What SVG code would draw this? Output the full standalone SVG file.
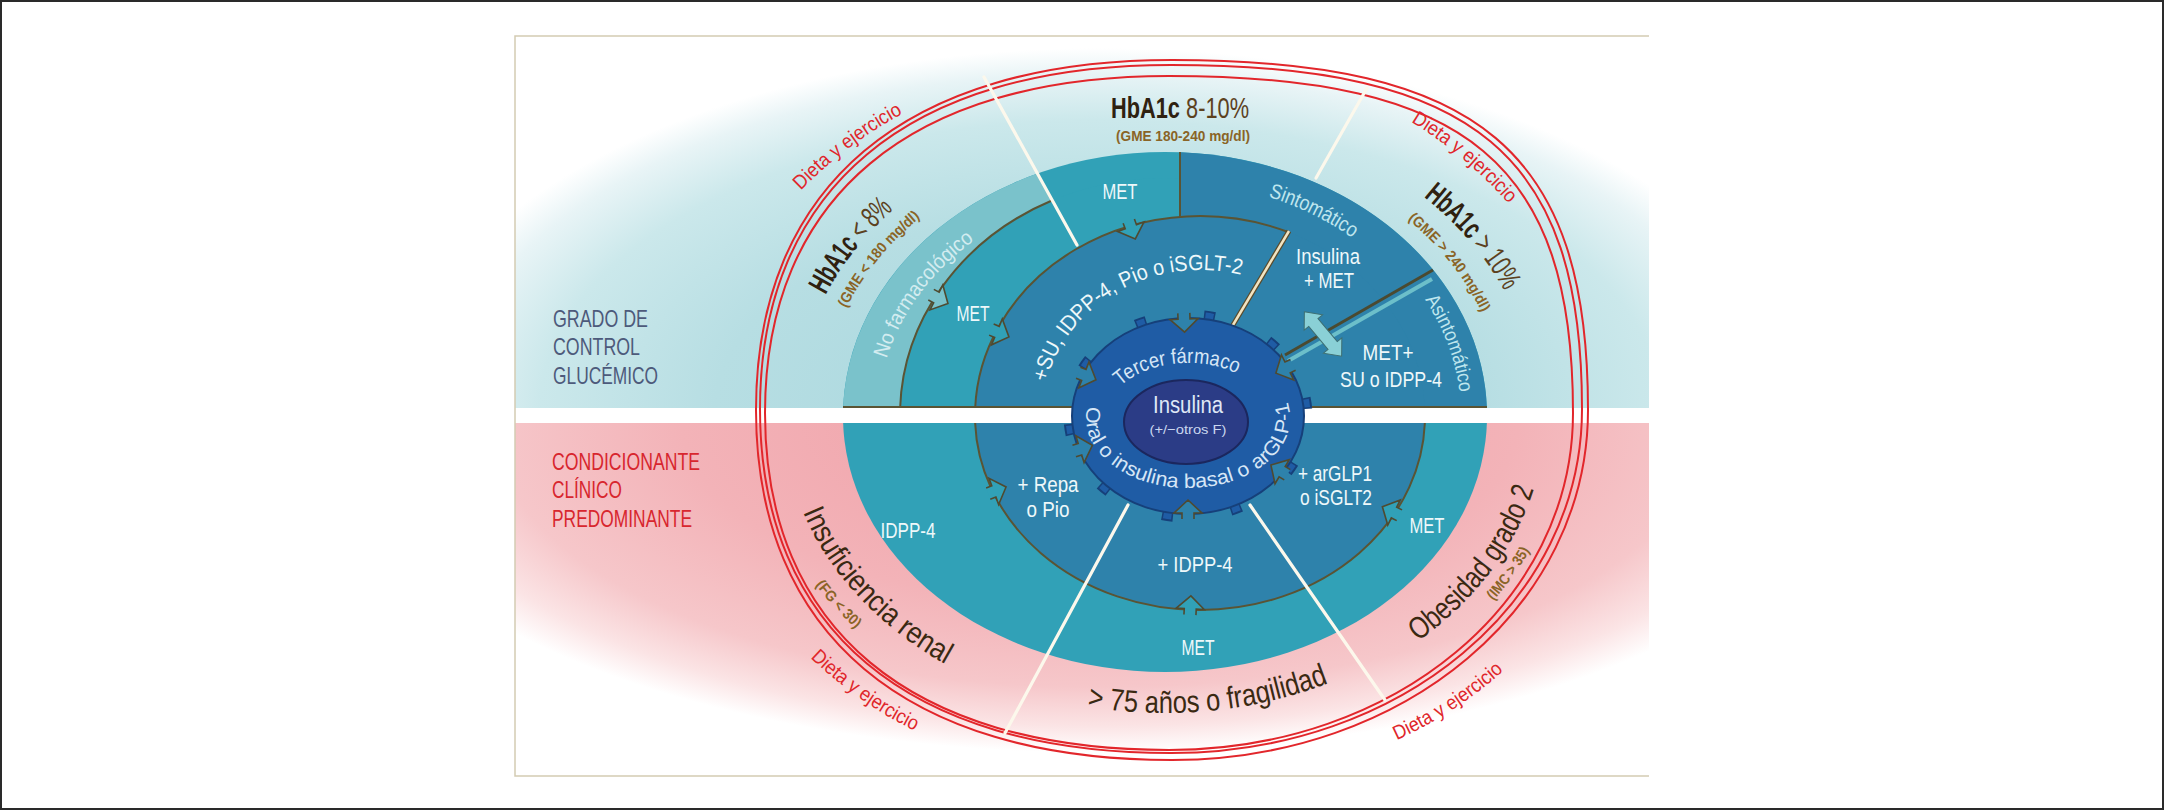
<svg xmlns="http://www.w3.org/2000/svg" width="2164" height="810" viewBox="0 0 2164 810">
<defs>
<style>
.f{font-family:"Liberation Sans Narrow","Liberation Sans",Arial,sans-serif}
.lbl{fill:#eef8fa;font-size:22px}
.brn{fill:#3a2912}
.gme{fill:#8a6426;font-size:15px;font-weight:bold}
.red{fill:#e0262b;font-size:20px}
.sep{stroke:#5a5434;stroke-width:2;fill:none}
.wl{stroke:#fcf8ec;stroke-width:3.2;fill:none;stroke-linecap:round}
.mid{text-anchor:middle}
</style>
<radialGradient id="gUp" gradientUnits="userSpaceOnUse" cx="1100" cy="408" r="700" gradientTransform="translate(1100 408) scale(1 0.514) translate(-1100 -408)">
<stop offset="0" stop-color="#a6d6dd"/>
<stop offset="0.55" stop-color="#b7dee3"/>
<stop offset="0.8" stop-color="#cbe8eb"/>
<stop offset="0.93" stop-color="#e8f4f6"/>
<stop offset="1" stop-color="#ffffff"/>
</radialGradient>
<radialGradient id="gDn" gradientUnits="userSpaceOnUse" cx="1100" cy="423" r="760" gradientTransform="translate(1100 423) scale(1 0.434) translate(-1100 -423)">
<stop offset="0" stop-color="#ef9ea6"/>
<stop offset="0.55" stop-color="#f3b3b8"/>
<stop offset="0.8" stop-color="#f6c7ca"/>
<stop offset="0.92" stop-color="#fbe4e5"/>
<stop offset="1" stop-color="#ffffff"/>
</radialGradient>
<clipPath id="cu"><rect x="0" y="0" width="2164" height="408"/></clipPath>
<clipPath id="cd"><rect x="0" y="423" width="2164" height="400"/></clipPath>
<g id="tab"><path d="M-6,5 L-6,-1 L-14,-1 L0,-14 L14,-1 L6,-1 L6,5 Z"/><path d="M-6,5 L-6,-1 L-14,-1 L0,-14 L14,-1 L6,-1 L6,5" fill="none" stroke="#4f4a30" stroke-width="1.6"/></g>
<path id="pNoF" d="M882.4,375.2 A287 235 0 0 1 988.3,230.8"/>
<path id="pSin" d="M1258.4,193.8 A287 235 0 0 1 1360.7,244.1"/>
<path id="pAsin" d="M1416,287.2 A296 243 0 0 1 1460.8,407.5"/>
<path id="pSU" d="M1042.9,400.7 A158 146 0 0 1 1259.2,280.6"/>
<path id="pTer" d="M1116.1,390.5 A83 55 0 0 1 1242.5,376.5"/>
<path id="pOral" d="M1086.6,410.7 A102 70 0 1 0 1288.5,405.8"/>
<path id="pIns" d="M798.2,499.6 A381.6 303.4 0 0 0 957.2,670.5"/>
<path id="pFG" d="M803.9,568.6 A409 325 0 0 0 870.8,641.8"/>
<path id="p75" d="M1074.6,704.2 A373.5 297 0 0 0 1340.4,678.2"/>
<path id="pOb" d="M1409.3,647.3 A380 302 0 0 0 1536.7,478.8"/>
<path id="pIMC" d="M1481.8,613 A402 320 0 0 0 1537.7,535.9"/>
<path id="pH8" d="M817.3,312 A370 304 0 0 1 908,197.3"/>
<path id="pG8" d="M838.8,324.2 A345 282 0 0 1 934.2,206.4"/>
<path id="pH10" d="M1418.7,192.9 A372 305 0 0 1 1507.4,296.8"/>
<path id="pG10" d="M1393.2,207.9 A341 280 0 0 1 1489.3,329.5"/>
<path id="pD1" d="M797.9,193.5 A420 420 0 0 1 906.5,111.7"/>
<path id="pD2" d="M1407.4,119.7 A420 420 0 0 1 1511.6,207.1"/>
<path id="pD3" d="M807.3,654.7 A420 420 0 0 0 918.7,732.7"/>
<path id="pD4" d="M1392.8,741.9 A420 420 0 0 0 1506.8,667.9"/>
</defs>

<g id="background">
<rect width="2164" height="810" fill="#ffffff"/>
<rect x="1" y="1" width="2162" height="808" fill="none" stroke="#2a2a2a" stroke-width="2"/>
<rect x="515" y="36" width="1134" height="372" fill="url(#gUp)"/>
<rect x="515" y="423" width="1134" height="353" fill="url(#gDn)"/>
<path d="M1649,36 H515 V776 H1649" fill="none" stroke="#d3cbb3" stroke-width="1.5"/>
</g>

<g id="diet-ring" fill="none" stroke="#e2262b" stroke-width="2">
<path d="M1588,410 C1588,606 1405,760 1172,760 C905.8,760 756,634 756,410 C756,186 905.8,60 1172,60 C1479.8,60 1588,151 1588,410 Z"/>
<path d="M1582,409 C1582,601.6 1401.2,753 1171,753 C908,753 760,629.2 760,409 C760,188.8 908,65 1171,65 C1475.1,65 1582,154.4 1582,409 Z"/>
<path d="M1573,413 C1573,601.7 1395.2,750 1169,750 C910.4,750 765,628.7 765,413 C765,197.3 910.4,76 1169,76 C1468,76 1573,163.6 1573,413 Z"/>
</g>

<g id="disc-upper" clip-path="url(#cu)">
<path d="M843,416 A322 264 0 0 1 1487,416 Z" fill="#31a1b7"/>
<path d="M843,416 A322 264 0 0 1 1037.5,173.6 L1053,200 L1165,416 Z" fill="#7ac2cb"/>
<path d="M900,416 A265 238 0 0 1 1430,416 Z" fill="#31a1b7"/>
<path d="M1180,152.3 A322 264 0 0 1 1487,416 L1180,416 Z" fill="#2e82ab"/>
<path d="M975,416 A225 200 0 0 1 1425,416 Z" fill="#2e82ab"/>
<path class="sep" d="M900,416 A265 238 0 0 1 1053,200"/>
<path class="sep" d="M975,416 A225 200 0 0 1 1288,232"/>
<path class="sep" d="M1180,152 V217"/>
<path class="sep" d="M843,407 H1487"/>
<path d="M1288,361 L1432,279" stroke="#6cbfca" stroke-width="4" fill="none"/>
<path d="M1285,355 L1433,270" stroke="#4b4a30" stroke-width="3" fill="none"/>
<path d="M1289,231 L1230,330" stroke="#5a4a2a" stroke-width="5" fill="none"/>
<path d="M1289,231 L1230,330" stroke="#f1e4c2" stroke-width="2.5" fill="none"/>
<use href="#tab" fill="#7ac2cb" transform="translate(935.5,297) rotate(117.4)"/>
<use href="#tab" fill="#31a1b7" transform="translate(996,331.5) rotate(112.5)"/>
<use href="#tab" fill="#31a1b7" transform="translate(1130.5,225.8) rotate(159.9)"/>
</g>

<g id="disc-lower" clip-path="url(#cd)">
<path d="M843,416 A322 256 0 0 0 1487,416 Z" fill="#31a1b7"/>
<path d="M975,416 A225 194 0 0 0 1425,416 Z" fill="#2e82ab"/>
<path class="sep" d="M975,416 A225 194 0 0 0 1425,416"/>
<use href="#tab" fill="#31a1b7" transform="translate(1190.2,609.8) rotate(2.9)"/>
<use href="#tab" fill="#31a1b7" transform="translate(992.9,491.8) rotate(69.9)"/>
<use href="#tab" fill="#31a1b7" transform="translate(1394.9,513) rotate(-63.5)"/>
</g>

<g id="connectors">
<path class="wl" d="M984,77 L1077,245"/>
<path class="wl" d="M1367,88 L1316,178"/>
<path class="wl" d="M1128,505 L1005,733"/>
<path class="wl" d="M1250,505 L1385,700"/>
<path transform="translate(1323,334) rotate(50)" d="M-29,0 L-15,-12 L-15,-6 L15,-6 L15,-12 L29,0 L15,12 L15,6 L-15,6 L-15,12 Z" fill="#8ad0d6" stroke="#3e6f72" stroke-width="1"/>
</g>

<g id="gear">
<ellipse cx="1188" cy="416" rx="119" ry="101" fill="none" stroke="#16407a" stroke-width="11" stroke-dasharray="11 58.35" stroke-dashoffset="20"/>
<ellipse cx="1188" cy="416" rx="119" ry="101" fill="none" stroke="#1f5ca5" stroke-width="7" stroke-dasharray="8 61.35" stroke-dashoffset="18.5"/>
<ellipse cx="1188" cy="416" rx="116" ry="98" fill="#1f5ca5" stroke="#16407a" stroke-width="2"/>
<use href="#tab" fill="#2e82ab" transform="translate(1082.9,374.6) rotate(111.5)"/>
<use href="#tab" fill="#2e82ab" transform="translate(1184,318.1) rotate(177.7)"/>
<use href="#tab" fill="#2e82ab" transform="translate(1288.5,367) rotate(244)"/>
<use href="#tab" fill="#2e82ab" transform="translate(1079,449.5) rotate(72.9)"/>
<use href="#tab" fill="#2e82ab" transform="translate(1188,514) rotate(0)"/>
<use href="#tab" fill="#2e82ab" transform="translate(1283,472.2) rotate(-59.4)"/>
<ellipse cx="1186" cy="422" rx="62" ry="42" fill="#2b3c86" stroke="#1b275e" stroke-width="2"/>
</g>

<g id="legend-left" class="f" font-size="24">
<text x="553" y="327" fill="#4d5a7b" textLength="95" lengthAdjust="spacingAndGlyphs">GRADO DE</text>
<text x="553" y="355" fill="#4d5a7b" textLength="87" lengthAdjust="spacingAndGlyphs">CONTROL</text>
<text x="553" y="384" fill="#4d5a7b" textLength="105" lengthAdjust="spacingAndGlyphs">GLUCÉMICO</text>
<text x="552" y="470" fill="#d8262e" textLength="148" lengthAdjust="spacingAndGlyphs">CONDICIONANTE</text>
<text x="552" y="498" fill="#d8262e" textLength="70" lengthAdjust="spacingAndGlyphs">CLÍNICO</text>
<text x="552" y="527" fill="#d8262e" textLength="140" lengthAdjust="spacingAndGlyphs">PREDOMINANTE</text>
</g>

<g id="diet-labels" class="f">
<text class="red mid"><textPath href="#pD1" startOffset="50%" textLength="128" lengthAdjust="spacingAndGlyphs">Dieta y ejercicio</textPath></text>
<text class="red mid"><textPath href="#pD2" startOffset="50%" textLength="128" lengthAdjust="spacingAndGlyphs">Dieta y ejercicio</textPath></text>
<text class="red mid"><textPath href="#pD3" startOffset="50%" textLength="128" lengthAdjust="spacingAndGlyphs">Dieta y ejercicio</textPath></text>
<text class="red mid"><textPath href="#pD4" startOffset="50%" textLength="128" lengthAdjust="spacingAndGlyphs">Dieta y ejercicio</textPath></text>
</g>

<g id="hba1c-labels" class="f">
<text x="1111" y="118" font-size="30" textLength="138" lengthAdjust="spacingAndGlyphs"><tspan font-weight="bold" fill="#2f2110">HbA1c</tspan><tspan fill="#5c411e"> 8-10%</tspan></text>
<text class="gme mid" x="1183" y="141" font-size="16" textLength="134" lengthAdjust="spacingAndGlyphs">(GME 180-240 mg/dl)</text>
<text class="mid" font-size="30"><textPath href="#pH8" startOffset="50%" textLength="110" lengthAdjust="spacingAndGlyphs"><tspan font-weight="bold" fill="#2f2110">HbA1c</tspan><tspan fill="#5c411e"> &lt; 8%</tspan></textPath></text>
<text class="gme mid"><textPath href="#pG8" startOffset="50%" textLength="118" lengthAdjust="spacingAndGlyphs">(GME &lt; 180 mg/dl)</textPath></text>
<text class="mid" font-size="30"><textPath href="#pH10" startOffset="50%" textLength="125" lengthAdjust="spacingAndGlyphs"><tspan font-weight="bold" fill="#2f2110">HbA1c</tspan><tspan fill="#5c411e"> &gt; 10%</tspan></textPath></text>
<text class="gme mid"><textPath href="#pG10" startOffset="50%" textLength="120" lengthAdjust="spacingAndGlyphs">(GME &gt; 240 mg/dl)</textPath></text>
</g>

<g id="condition-labels" class="f">
<text class="brn mid" font-size="30"><textPath href="#pIns" startOffset="50%" textLength="212" lengthAdjust="spacingAndGlyphs">Insuficiencia renal</textPath></text>
<text class="gme mid" font-size="14"><textPath href="#pFG" startOffset="50%" textLength="60" lengthAdjust="spacingAndGlyphs">(FG &lt; 30)</textPath></text>
<text class="brn mid" font-size="31"><textPath href="#p75" startOffset="50%" textLength="245" lengthAdjust="spacingAndGlyphs">&gt; 75 años o fragilidad</textPath></text>
<text class="brn mid" font-size="31"><textPath href="#pOb" startOffset="50%" textLength="195" lengthAdjust="spacingAndGlyphs">Obesidad grado 2</textPath></text>
<text class="gme mid" font-size="14"><textPath href="#pIMC" startOffset="50%" textLength="62" lengthAdjust="spacingAndGlyphs">(IMC &gt; 35)</textPath></text>
</g>

<g id="ring-labels" class="f">
<text class="mid" font-size="21" fill="#d3ecf0"><textPath href="#pNoF" startOffset="50%" textLength="150" lengthAdjust="spacingAndGlyphs">No farmacológico</textPath></text>
<text class="mid" font-size="21" fill="#bfe6ee"><textPath href="#pSin" startOffset="50%" textLength="94" lengthAdjust="spacingAndGlyphs">Sintomático</textPath></text>
<text class="mid" font-size="20" fill="#bfe6ee"><textPath href="#pAsin" startOffset="50%" textLength="100" lengthAdjust="spacingAndGlyphs">Asintomático</textPath></text>
<text class="lbl mid" font-size="24"><textPath href="#pSU" startOffset="50%" textLength="246" lengthAdjust="spacingAndGlyphs">+SU, IDPP-4, Pio o iSGLT-2</textPath></text>
<text class="lbl mid" x="973" y="321" textLength="33" lengthAdjust="spacingAndGlyphs">MET</text>
<text class="lbl mid" x="1120" y="199" textLength="35" lengthAdjust="spacingAndGlyphs">MET</text>
<text class="lbl mid" x="1328" y="264" textLength="64" lengthAdjust="spacingAndGlyphs">Insulina</text>
<text class="lbl mid" x="1329" y="288" textLength="50" lengthAdjust="spacingAndGlyphs">+ MET</text>
<text class="lbl mid" x="1388" y="360" textLength="51" lengthAdjust="spacingAndGlyphs">MET+</text>
<text class="lbl mid" x="1391" y="387" textLength="102" lengthAdjust="spacingAndGlyphs">SU o IDPP-4</text>
<text class="lbl mid" x="1048" y="492" textLength="61" lengthAdjust="spacingAndGlyphs">+ Repa</text>
<text class="lbl mid" x="1048" y="517" textLength="43" lengthAdjust="spacingAndGlyphs">o Pio</text>
<text class="lbl mid" x="908" y="538" textLength="55" lengthAdjust="spacingAndGlyphs">IDPP-4</text>
<text class="lbl mid" x="1195" y="572" textLength="75" lengthAdjust="spacingAndGlyphs">+ IDPP-4</text>
<text class="lbl mid" x="1198" y="655" textLength="33" lengthAdjust="spacingAndGlyphs">MET</text>
<text class="lbl" x="1298" y="481" textLength="74" lengthAdjust="spacingAndGlyphs">+ arGLP1</text>
<text class="lbl" x="1300" y="505" textLength="72" lengthAdjust="spacingAndGlyphs">o iSGLT2</text>
<text class="lbl mid" x="1427" y="533" textLength="35" lengthAdjust="spacingAndGlyphs">MET</text>
</g>

<g id="gear-labels" class="f">
<text class="mid" font-size="21" fill="#d6e6f6"><textPath href="#pTer" startOffset="50%" textLength="123" lengthAdjust="spacingAndGlyphs">Tercer fármaco</textPath></text>
<text class="mid" font-size="20" fill="#d6e6f6"><textPath href="#pOral" startOffset="50%" textLength="300" lengthAdjust="spacingAndGlyphs">Oral o insulina basal o arGLP-1</textPath></text>
<text class="mid" x="1188" y="413" font-size="23" fill="#dfe8f6" textLength="70" lengthAdjust="spacingAndGlyphs">Insulina</text>
<text class="mid" x="1188" y="434" font-size="13" fill="#c9d6ee" textLength="77" lengthAdjust="spacingAndGlyphs">(+/−otros F)</text>
</g>
</svg>
